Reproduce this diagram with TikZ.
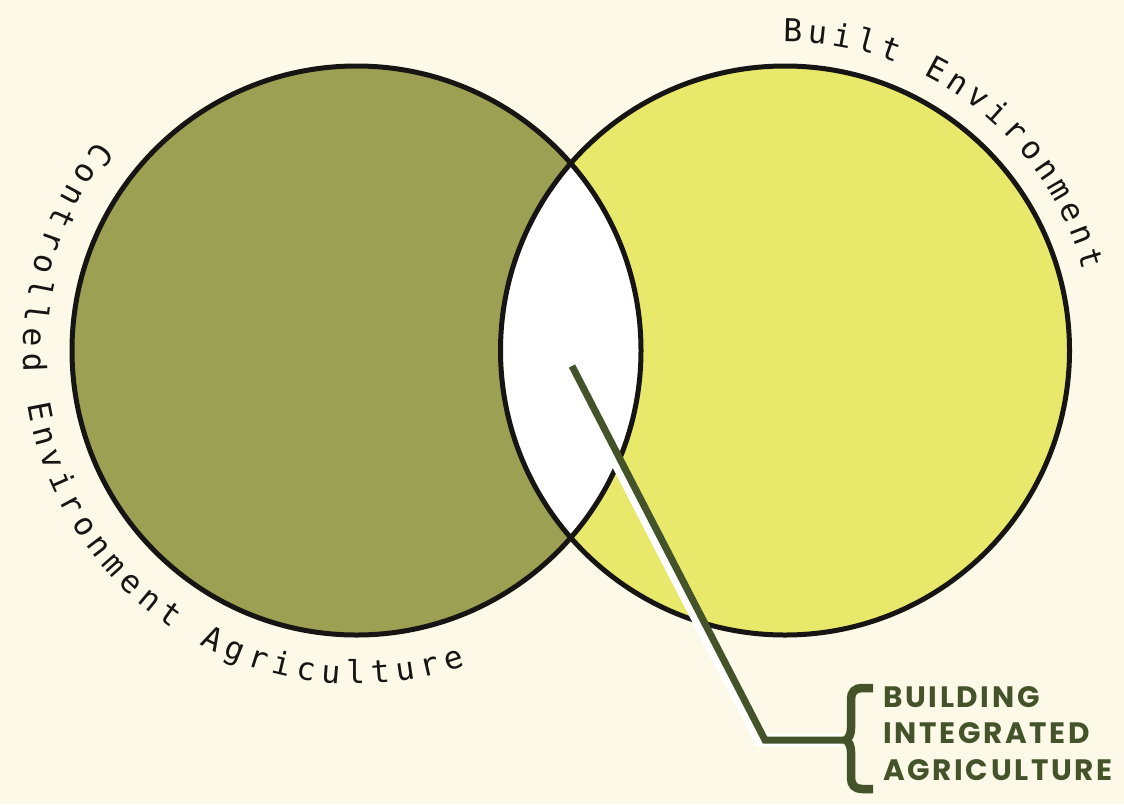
\documentclass[tikz,border=0pt]{standalone}
\usepackage{fontspec}
\newfontfamily\arcfont{DejaVu Sans Mono}
\newfontfamily\biafont[LetterSpace=9]{Poppins}
\definecolor{bgcream}{HTML}{FCF9E8}
\definecolor{olivefill}{HTML}{9BA052}
\definecolor{limefill}{HTML}{E8E86B}
\definecolor{rimblack}{HTML}{161514}
\definecolor{leafgreen}{HTML}{44532A}

\tikzset{
  rim/.style={draw=rimblack, line width=5pt},
  arcchar/.style={font=\arcfont\fontsize{31.5}{31.5}\selectfont, text=rimblack, inner sep=0pt, anchor=base},
  pointer/.style={draw=leafgreen, line width=7pt, line join=miter},
  halo/.style={draw=white, line width=13pt, line join=miter},
  bracestroke/.style={draw=leafgreen, line width=8.5pt},
  bialabel/.style={font=\biafont\bfseries\fontsize{29.5}{29.5}\selectfont, text=leafgreen, inner sep=0pt, anchor=base west}
}

% one word of the left-hand arc caption, characters placed one by one
\newcommand\leftarcword[2]{%
  \foreach \ch [count=\k from #1, evaluate=\k as \a using 142.6+4.388*\k] in {#2} {
    \node[arcchar, rotate=\a+90] (cea\k) at ([shift={(\a:333.5)}]L) {\ch};
  }}
% one word of the right-hand arc caption
\newcommand\rightarcword[2]{%
  \foreach \ch [count=\k from #1, evaluate=\k as \a using 88.57-4.4875*\k] in {#2} {
    \node[arcchar, rotate=\a-90] (be\k) at ([shift={(\a:308.5)}]R) {\ch};
  }}

\begin{document}
\begin{tikzpicture}[x=1pt, y=1pt]
  \useasboundingbox (0,0) rectangle (1124,-804);
  \fill[bgcream] (0,0) rectangle (1124,-804);

  \coordinate (L) at (356.5,-350.5);
  \coordinate (R) at (785,-350.5);

  % the two sets and their overlap
  \fill[olivefill] (L) circle (284.5);
  \fill[limefill] (R) circle (284.5);
  \begin{scope}
    \clip (L) circle (284.5);
    \fill[white] (R) circle (284.5);
  \end{scope}
  \draw[rim] (L) circle (284.5);
  \draw[rim] (R) circle (284.5);

  % captions running round the circles
  \leftarcword{0}{C,o,n,t,r,o,l,l,e,d}
  \leftarcword{11}{E,n,v,i,r,o,n,m,e,n,t}
  \leftarcword{23}{A,g,r,i,c,u,l,t,u,r,e}
  \rightarcword{0}{B,u,i,l,t}
  \rightarcword{6}{E,n,v,i,r,o,n,m,e,n,t}

  % pointer from the overlap to the label
  \coordinate (ptip) at (572,-366);
  \coordinate (pbend) at (765,-740);
  \coordinate (brtip) at (846,-740);
  \draw[halo] ([xshift=-4.5pt]ptip) -- ([xshift=-4.5pt]pbend) -- ([xshift=-4.5pt]brtip);
  \draw[pointer] (ptip) -- (pbend) -- (brtip);

  % curly brace
  \draw[bracestroke] (873,-688) -- (862,-688)
    .. controls (855,-688) and (851,-692) .. (851,-699) -- (851,-728)
    .. controls (851,-734) and (849,-738) .. (brtip)
    .. controls (849,-742) and (851,-746) .. (851,-752) -- (851,-778)
    .. controls (851,-785) and (855,-789) .. (862,-789) -- (873,-789);

  \node[bialabel] (bia1) at (883,-707) {BUILDING};
  \node[bialabel] (bia2) at (883,-743) {INTEGRATED};
  \node[bialabel] (bia3) at (883,-780) {AGRICULTURE};
\end{tikzpicture}
\end{document}
